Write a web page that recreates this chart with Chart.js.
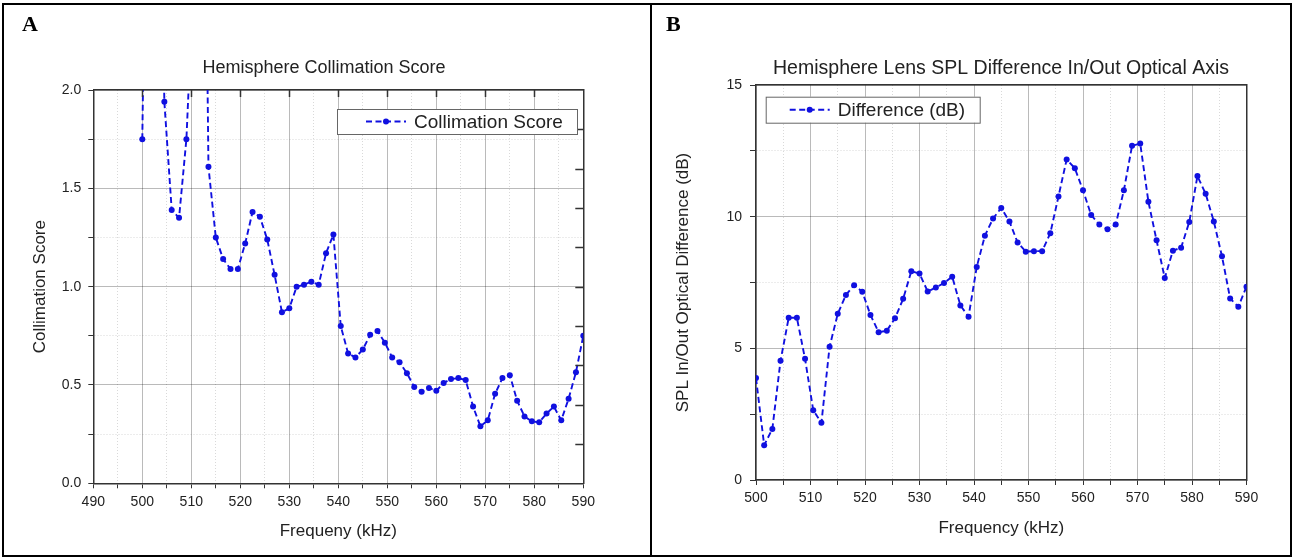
<!DOCTYPE html>
<html>
<head>
<meta charset="utf-8">
<title>Hemisphere lens charts</title>
<script src="https://cdn.jsdelivr.net/npm/chart.js@4/dist/chart.umd.min.js"></script>
<style>
  html, body { margin: 0; padding: 0; background: #fff; }
  body { width: 1294px; height: 559px; position: relative; overflow: hidden; }
  canvas { position: absolute; top: 0; }
  #chartA { left: 0; }
  #chartB { left: 652px; }
  .frame { position: absolute; left: 2px; top: 3px; width: 1286px; height: 550px; border: 2px solid #000; pointer-events: none; }
  .divider { position: absolute; left: 650px; top: 3px; width: 2px; height: 554px; background: #000; }
  .tag { position: absolute; top: 11px; font: bold 22px "Liberation Serif", "Times New Roman", serif; color: #000; }
</style>
</head>
<body>
<canvas id="chartA" width="650" height="559"></canvas>
<canvas id="chartB" width="642" height="559"></canvas>
<div class="frame"></div>
<div class="divider"></div>
<div class="tag" style="left:22px">A</div>
<div class="tag" style="left:666px">B</div>

<script>
// frequency points (kHz), shared by both panels
const frequency = [
  500, 501.5, 503, 504.5, 506, 507.5, 509, 510.5, 512, 513.5,
  515, 516.5, 518, 519.5, 521, 522.5, 524, 525.5, 527, 528.5,
  530, 531.5, 533, 534.5, 536, 537.5, 539, 540.5, 542, 543.5,
  545, 546.5, 548, 549.5, 551, 552.5, 554, 555.5, 557, 558.5,
  560, 561.5, 563, 564.5, 566, 567.5, 569, 570.5, 572, 573.5,
  575, 576.5, 578, 579.5, 581, 582.5, 584, 585.5, 587, 588.5, 590
]

// panel A - points above 2.0 run off the top of the plot
const collimationScore = [
  1.75, 4.5, 4.0, 1.94, 1.39, 1.35, 1.75, 2.6, 5.0, 1.61,
  1.25, 1.14, 1.09, 1.09, 1.22, 1.38, 1.355, 1.24, 1.06, 0.87,
  0.89, 1.0, 1.01, 1.025, 1.01, 1.17, 1.265, 0.80, 0.66, 0.64,
  0.68, 0.755, 0.775, 0.715, 0.64, 0.615, 0.56, 0.49, 0.465, 0.485,
  0.47, 0.51, 0.53, 0.535, 0.525, 0.39, 0.29, 0.32, 0.455, 0.535,
  0.55, 0.42, 0.34, 0.315, 0.31, 0.355, 0.39, 0.32, 0.43, 0.565, 0.75
]

// panel B
const splDifference = [
  3.87, 1.32, 1.94, 4.53, 6.16, 6.16, 4.6, 2.65, 2.17, 5.06,
  6.31, 7.03, 7.4, 7.15, 6.27, 5.61, 5.67, 6.14, 6.88, 7.93,
  7.84, 7.16, 7.31, 7.48, 7.72, 6.63, 6.2, 8.09, 9.28, 9.93,
  10.33, 9.82, 9.02, 8.67, 8.69, 8.69, 9.37, 10.77, 12.17, 11.84,
  11.0, 10.06, 9.7, 9.52, 9.7, 11.0, 12.69, 12.78, 10.57, 9.1,
  7.67, 8.71, 8.82, 9.8, 11.54, 10.87, 9.82, 8.5, 6.89, 6.58, 7.34
]

// inward ticks on the top / right frame of panel A
const topTicksA = [500, 510, 520, 530, 540, 550, 560, 570, 580]
const rightTicksA = [0.2, 0.4, 0.6, 0.8, 1.0, 1.2, 1.4, 1.6, 1.8]

const BLUE = "#1010e0"
Chart.defaults.font.family = "'Liberation Sans', Arial, sans-serif"
Chart.defaults.color = "#222"

function isMajor(v, step) {
  return Math.abs(v / step - Math.round(v / step)) < 1e-6
}

// frame ticks + inset legend
const extrasPlugin = {
  id: "extras",
  afterDatasetsDraw(chart, args, opts) {
    const { ctx, chartArea } = chart
    const xs = chart.scales.x
    const ys = chart.scales.y
    ctx.save()
    ctx.strokeStyle = "#333"
    ctx.lineWidth = 1.5
    ctx.beginPath()
    ;(opts.topTicks || []).forEach(v => {
      const px = Math.round(xs.getPixelForValue(v)) + 0.5
      ctx.moveTo(px, chartArea.top)
      ctx.lineTo(px, chartArea.top + 7)
    })
    ;(opts.rightTicks || []).forEach(v => {
      const py = Math.round(ys.getPixelForValue(v)) + 0.5
      ctx.moveTo(chartArea.right, py)
      ctx.lineTo(chartArea.right - 8, py)
    })
    ctx.stroke()

    const lg = opts.legend
    if (lg) {
      const left = chartArea.left + lg.dx
      const top = chartArea.top + lg.dy
      ctx.fillStyle = "#fff"
      ctx.fillRect(left, top, lg.w, lg.h)
      ctx.strokeStyle = "#666"
      ctx.lineWidth = 1
      ctx.strokeRect(left + 0.5, top + 0.5, lg.w, lg.h)
      const cy = top + lg.h / 2
      ctx.strokeStyle = BLUE
      ctx.lineWidth = 1.9
      ctx.setLineDash([6, 3.5])
      ctx.beginPath()
      ctx.moveTo(left + lg.iconX, cy)
      ctx.lineTo(left + lg.iconX + 40, cy)
      ctx.stroke()
      ctx.setLineDash([])
      ctx.fillStyle = BLUE
      ctx.beginPath()
      ctx.arc(left + lg.iconX + 20, cy, 3, 0, Math.PI * 2)
      ctx.fill()
      ctx.fillStyle = "#222"
      ctx.font = "19px 'Liberation Sans', Arial, sans-serif"
      ctx.textBaseline = "middle"
      ctx.fillText(lg.text, left + lg.iconX + 48, cy + 1)
    }
    ctx.restore()
  }
}

function buildChart(canvasId, cfg) {
  const ctx = document.getElementById(canvasId).getContext("2d")
  return new Chart(ctx, {
    type: "line",
    data: {
      datasets: [{
        label: cfg.label,
        data: frequency.map((f, i) => ({ x: f, y: cfg.values[i] })),
        borderColor: BLUE,
        backgroundColor: BLUE,
        borderWidth: 1.9,
        borderDash: [6, 3.5],
        pointRadius: 3,
        pointBorderWidth: 0,
        pointBackgroundColor: BLUE,
        tension: 0,
        fill: false
      }]
    },
    options: {
      responsive: false,
      animation: false,
      layout: { padding: cfg.padding },
      plugins: {
        legend: { display: false },
        tooltip: { enabled: false },
        title: {
          display: true,
          text: cfg.title,
          color: "#222",
          font: { size: cfg.titleSize, weight: "normal" },
          padding: cfg.titlePadding
        },
        extras: cfg.extras
      },
      scales: {
        x: {
          type: "linear",
          min: cfg.xMin,
          max: 590,
          ticks: {
            stepSize: 5,
            autoSkip: false,
            maxRotation: 0,
            padding: 5,
            color: "#222",
            font: { size: 14 },
            callback: v => isMajor(v, 10) ? String(v) : ""
          },
          grid: {
            color: c => c.tick && isMajor(c.tick.value, 10) ? "rgba(0,0,0,0.27)" : "rgba(0,0,0,0.15)",
            tickColor: "#333",
            tickLength: 5
          },
          border: {
            color: "#333",
            width: 1.5,
            dash: c => c.tick && !isMajor(c.tick.value, 10) ? [1, 2] : []
          },
          title: { display: true, text: cfg.xTitle, color: "#222", font: { size: 17 }, padding: 0 },
          afterFit: s => { s.height = cfg.xHeight }
        },
        y: {
          min: 0,
          max: cfg.yMax,
          ticks: {
            stepSize: cfg.yMinor,
            autoSkip: false,
            padding: cfg.yPad,
            color: "#222",
            font: { size: 14 },
            callback: v => isMajor(v, cfg.yMajor) ? cfg.fmt(v) : ""
          },
          grid: {
            color: c => c.tick && isMajor(c.tick.value, cfg.yMajor) ? "rgba(0,0,0,0.27)" : "rgba(0,0,0,0.15)",
            tickColor: "#333",
            tickLength: cfg.yTick
          },
          border: {
            color: "#333",
            width: 1.5,
            dash: c => c.tick && !isMajor(c.tick.value, cfg.yMajor) ? [1, 2] : []
          },
          title: { display: true, text: cfg.yTitle, color: "#222", font: { size: 17 }, padding: { top: cfg.yTitleOffset } },
          afterFit: s => { s.width = cfg.yWidth }
        },
        x2: {
          type: "linear",
          position: "top",
          min: cfg.xMin,
          max: 590,
          ticks: { display: false },
          grid: { display: false },
          border: { display: true, color: "#333", width: 1.5 },
          afterFit: s => { s.height = 0 }
        },
        y2: {
          type: "linear",
          position: "right",
          min: 0,
          max: cfg.yMax,
          ticks: { display: false },
          grid: { display: false },
          border: { display: true, color: "#333", width: 1.5 },
          afterFit: s => { s.width = cfg.rightWidth }
        }
      }
    },
    plugins: [extrasPlugin]
  })
}

buildChart("chartA", {
  label: "Collimation Score",
  values: collimationScore,
  title: "Hemisphere Collimation Score",
  titleSize: 18,
  xTitle: "Frequeny (kHz)",
  yTitle: "Collimation Score",
  xMin: 490,
  yMax: 2,
  yMajor: 0.5,
  yMinor: 0.25,
  fmt: v => v.toFixed(1),
  padding: { left: 0, right: 2, top: 0, bottom: 17 },
  titlePadding: { top: 57.2, bottom: 11.2 },
  xHeight: 58.7,
  yWidth: 93.3,
  rightWidth: 64.7,
  yPad: 7,
  yTick: 5,
  yTitleOffset: 29.8,
  extras: {
    topTicks: topTicksA,
    rightTicks: rightTicksA,
    legend: { text: "Collimation Score", dx: 243.7, dy: 19, w: 240, h: 25, iconX: 29 }
  }
})

buildChart("chartB", {
  label: "Difference (dB)",
  values: splDifference,
  title: "Hemisphere Lens SPL Difference In/Out Optical Axis",
  titleSize: 19.5,
  xTitle: "Frequency (kHz)",
  yTitle: "SPL In/Out Optical Difference (dB)",
  xMin: 500,
  yMax: 15,
  yMajor: 5,
  yMinor: 2.5,
  fmt: v => String(v),
  padding: { left: 56, right: 0, top: 0, bottom: 20.8 },
  titlePadding: { top: 57.3, bottom: 4.3 },
  xHeight: 58.2,
  yWidth: 48,
  rightWidth: 47.5,
  yPad: 8,
  yTick: 6,
  yTitleOffset: -35.2,
  extras: {
    topTicks: [],
    rightTicks: [],
    legend: { text: "Difference (dB)", dx: 9.7, dy: 11.7, w: 214, h: 26, iconX: 24 }
  }
})
</script>
</body>
</html>
